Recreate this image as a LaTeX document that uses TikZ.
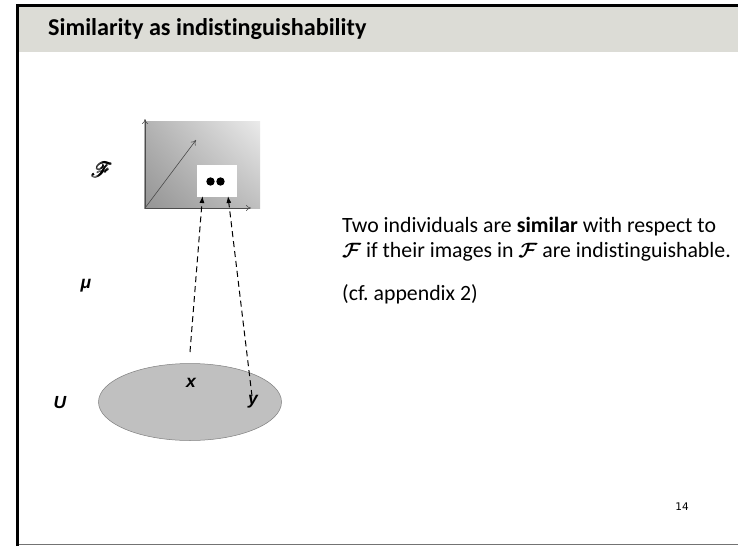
\documentclass[tikz,border=0pt]{standalone}
\usepackage{amsmath}
\usepackage{bm}
\usepackage{mathrsfs}
\usepackage{fontspec}
\setmainfont[Ligatures=NoCommon]{Carlito}
\newfontfamily\arialfont{Liberation Sans}
\newfontfamily\numfont{DejaVu Sans}
\usetikzlibrary{arrows.meta,shadings,shapes.geometric}
\definecolor{titlegray}{HTML}{DCDCD6}
\definecolor{setgray}{HTML}{C0C0C0}
\frenchspacing
\tikzset{
  axis/.style={draw=black!70, line width=0.6pt, -{To[length=5pt,width=6pt]}},
  proj/.style={draw=black, dashed, dash pattern=on 6pt off 4pt, line width=1pt,
    -{Latex[length=7pt,width=5pt]}},
  varlabel/.style={font=\arialfont\bfseries\itshape\fontsize{17.5}{20}\selectfont, inner sep=0pt},
  bodytext/.style={font=\fontsize{21.8}{25}\selectfont, anchor=west, inner sep=0pt}
}
\begin{document}
\begin{tikzpicture}[x=1pt, y=-1pt]
\useasboundingbox (0,0) rectangle (738,546);
% slide frame and title bar
\fill[white] (0,0) rectangle (738,546);
\fill[titlegray] (17,5) rectangle (738,52);
\draw[black!55, line width=1.5pt] (17,544.5) -- (738,544.5);
\draw[black, line width=3pt] (17,546) -- (17,5) -- (738,5);
\node[anchor=west, inner sep=0pt, font=\bfseries\fontsize{24.2}{27}\selectfont] (title) at (48,29) {Similarity as indistinguishability};
% feature space with gradient
\shade[lower left=black!42, upper left=black!30, lower right=black!25, upper right=black!8]
  (144,121) rectangle (260,208);
\node[draw=none, minimum width=116pt, minimum height=87pt, inner sep=0pt] (fspace) at (202,164.5) {};
\coordinate (origin) at (145,208);
\coordinate (yend) at (145,119);
\coordinate (xend) at (251,208);
\coordinate (dend) at (196,140);
\draw[axis] (origin) -- (yend);
\draw[axis] (origin) -- (xend);
\draw[axis] (origin) -- (dend);
\node[fill=white, minimum width=40pt, minimum height=32pt, inner sep=0pt] (imgbox) at (217,181) {};
\fill[black] (210.5,181.5) circle (4.2pt) (220.5,181.5) circle (4.2pt);
\node[inner sep=0pt] (flabel) at (102,170) {\fontsize{22}{24}\selectfont\pmb{$\mathscr{F}$}};
% the set U
\node[ellipse, draw=black!50, fill=setgray, line width=0.5pt, minimum width=183pt, minimum height=77pt, inner sep=0pt] (uset) at (190,402) {};
\node[varlabel] (ulabel) at (60,403) {U};
\node[varlabel] (xlabel) at (191,383) {x};
\node[varlabel] (ylabel) at (253,402) {y};
\node[varlabel] (mulabel) at (86,286) {μ};
% projections of x and y
\coordinate (xsrc) at (190,352);
\coordinate (xdst) at (202.5,196);
\coordinate (ysrc) at (252,396);
\coordinate (ydst) at (228,196);
\draw[proj] (xsrc) -- (xdst);
\draw[proj] (ysrc) -- (ydst);
% explanation
\node[bodytext] (line1) at (342,227) {Two individuals are \textbf{similar} with respect to};
\node[bodytext] (line2) at (342,252) {$\bm{\mathcal{F}}$ if their images in $\bm{\mathcal{F}}$ are indistinguishable.};
\node[bodytext] (cf) at (342,294) {(cf. appendix 2)};
\node[inner sep=0pt, font=\numfont\fontsize{10.5}{12}\selectfont] (pnum) at (682,507) {14};
\end{tikzpicture}
\end{document}
